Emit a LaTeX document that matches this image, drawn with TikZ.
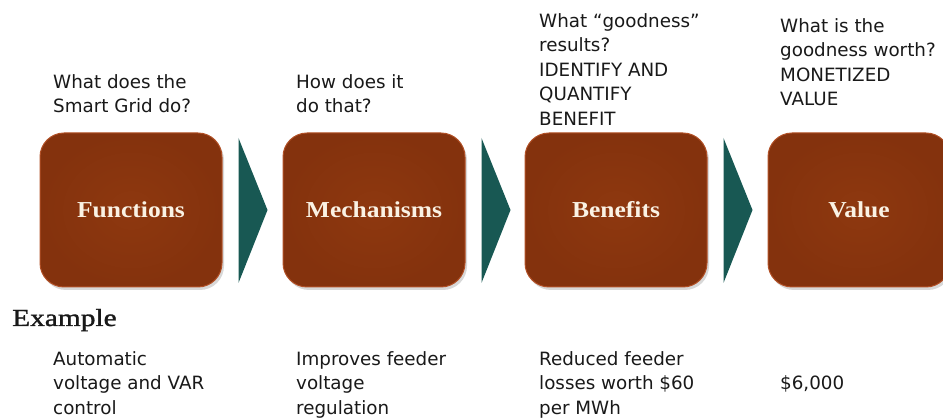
\documentclass[tikz,border=0pt]{standalone}
\usepackage{fontspec}
\setmainfont{Liberation Serif}
\newfontfamily\tfont{DejaVu Sans}
\newfontfamily\bfont{Liberation Serif}[FakeStretch=1.12]
\newfontfamily\hfont{Liberation Serif}[FakeStretch=1.2,FakeBold=1.3]
\usetikzlibrary{calc,shadows}
\definecolor{boxin}{RGB}{142,56,15}
\definecolor{boxout}{RGB}{132,50,13}
\definecolor{boxrim}{RGB}{178,80,38}
\definecolor{chev}{RGB}{24,88,83}
\definecolor{cream}{RGB}{250,242,228}
\definecolor{txt}{RGB}{25,25,25}
\tikzset{
  stage/.style={rounded corners=24pt, minimum width=182pt, minimum height=154pt,
    inner color=boxin, outer color=boxout, draw=boxrim, line width=1pt, inner sep=0pt,
    text=cream, font=\bfont\bfseries\fontsize{22.8}{27}\selectfont,
    drop shadow={opacity=0.3, shadow xshift=2pt, shadow yshift=-3pt}},
  tri/.style={fill=chev},
  lbl/.style={anchor=north west, inner sep=0pt, align=left, text=txt,
    font=\tfont\fontsize{18.3}{24.5}\selectfont},
  headlbl/.style={anchor=base west, inner sep=0pt, text=txt,
    font=\hfont\fontsize{24.5}{28}\selectfont}
}
\begin{document}
\begin{tikzpicture}[x=1pt,y=-1pt]
\useasboundingbox (0,0) rectangle (943,419);
\fill[white] (0,0) rectangle (943,419);
\clip (0,0) rectangle (943,419);
% stage boxes
\node[stage] (f) at (131,210) {Functions};
\node[stage] (m) at (374,210) {Mechanisms};
\node[stage] (b) at (616,210) {Benefits};
\node[stage] (v) at (859,210) {Value};
% chevrons
\foreach \n in {f,m,b}{
  \fill[tri] ($(\n.east)+(16,-72)$) -- ($(\n.east)+(45,0)$) -- ($(\n.east)+(16,73)$) -- cycle;
}
% top questions
\node[lbl] (q1) at (53,70.85) {\strut What does the\\Smart Grid do?};
\node[lbl] (q2) at (296,70.85) {\strut How does it\\do that?};
\node[lbl] (q3) at (539,9.85) {\strut What “goodness”\\results?\\IDENTIFY AND\\QUANTIFY\\BENEFIT};
\node[lbl] (q4) at (780,14.85) {\strut What is the\\goodness worth?\\MONETIZED\\VALUE};
% example
\node[headlbl] (ex) at (12,326) {Example};
\node[lbl] (e1) at (53,347.85) {\strut Automatic\\voltage and VAR\\control};
\node[lbl] (e2) at (296,347.85) {\strut Improves feeder\\voltage\\regulation};
\node[lbl] (e3) at (539,347.85) {\strut Reduced feeder\\losses worth \$60\\per MWh};
\node[lbl] (e4) at (780,371.85) {\strut \$6,000};
\end{tikzpicture}
\end{document}
